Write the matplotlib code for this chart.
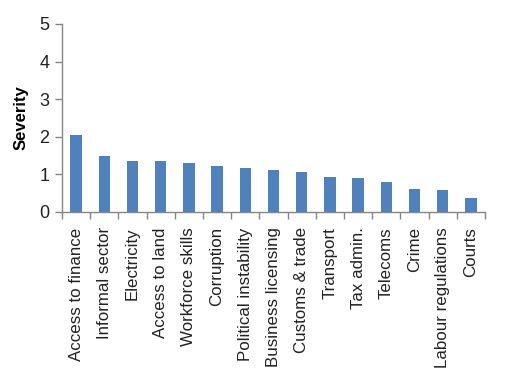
import matplotlib
matplotlib.use("Agg")
import matplotlib.pyplot as plt
import numpy as np

categories = ["Access to finance", "Informal sector", "Electricity", "Access to land",
              "Workforce skills", "Corruption", "Political instability", "Business licensing",
              "Customs & trade", "Transport", "Tax admin.", "Telecoms", "Crime",
              "Labour regulations", "Courts"]
severity = [2.05, 1.49, 1.36, 1.36, 1.30, 1.22, 1.17, 1.12, 1.06, 0.93, 0.90, 0.80, 0.61, 0.58, 0.37]
yticks = [0, 1, 2, 3, 4, 5]

plt.rcParams['font.family'] = ['Liberation Sans', 'DejaVu Sans']
fig = plt.figure(figsize=(5.09, 3.85), dpi=100)
W, H = 509, 385
ax = fig.add_axes([62/W, 1-212/H, (485-62)/W, (212-24)/H])

x = np.arange(len(categories))
ax.bar(x, severity, width=0.4, color="#4F81BD", zorder=2)
ax.set_xlim(-0.5, len(categories)-0.5)
ax.set_ylim(0, 5)
ax.set_yticks(yticks)
ax.set_yticklabels([str(v) for v in yticks], fontsize=13, color='#222222')
ax.set_xticks(x)
ax.set_xticklabels(categories, rotation=90, fontsize=12.2, color='#222222')
ax.set_xticks(np.arange(len(categories)+1)-0.5, minor=True)
ax.tick_params(axis='x', which='major', length=0, pad=11)
ax.tick_params(axis='x', which='minor', length=5, color='#868686', width=1)
ax.tick_params(axis='y', length=5, color='#868686', width=1, pad=4)
for s in ['top', 'right']:
    ax.spines[s].set_visible(False)
for s in ['left', 'bottom']:
    ax.spines[s].set_color('#868686')
    ax.spines[s].set_linewidth(1)
ax.set_ylabel("Severity", fontsize=12, fontweight='bold', labelpad=8)
fig.savefig("out.png", dpi=100)
